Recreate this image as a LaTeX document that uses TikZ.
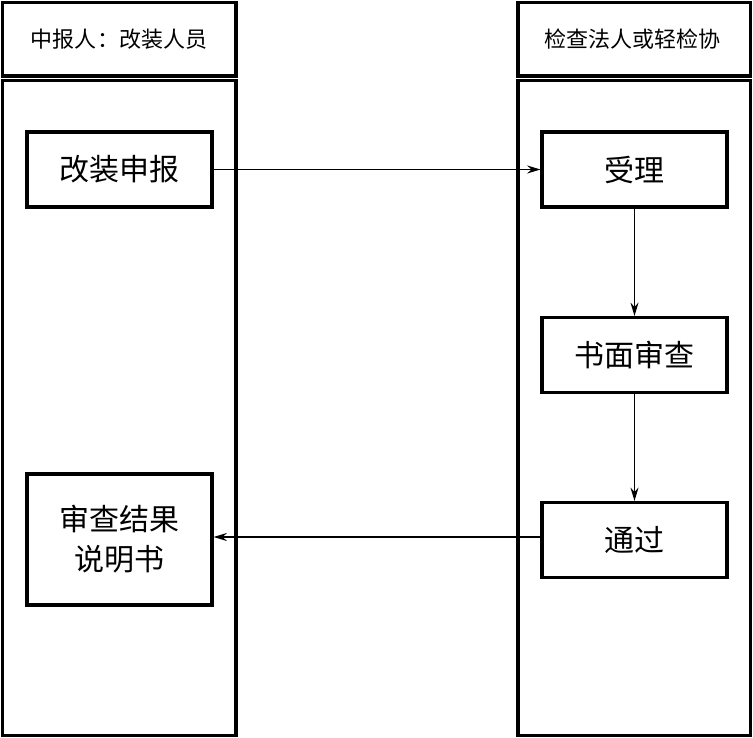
\documentclass[tikz,border=0pt]{standalone}
\usepackage{fontspec}
\newfontfamily\cjk{Noto Sans CJK SC}
\usetikzlibrary{arrows.meta}

\tikzset{
	lane/.style={draw=black, line width=2.3pt},
	stepbox/.style={draw=black, line width=2.3pt, minimum width=138.75pt, minimum height=56.25pt, inner sep=0pt, font=\cjk\fontsize{22.5pt}{30pt}\selectfont, align=center},
	lanetitle/.style={inner sep=0.75pt, font=\cjk\fontsize{16.5pt}{18pt}\selectfont},
	flow/.style={-{Stealth[length=10pt, width=6pt]}, line width=1.1pt, draw=black}
}

\begin{document}
\begin{tikzpicture}[x=0.75pt,y=0.75pt,yscale=-1,xscale=1]

	\useasboundingbox (0,0) rectangle (753,738);

	%%LANES---------------------------------------------
	%%left header
	\draw [lane] (2.5,2.5) rectangle (236,76);
	%%left body
	\draw [lane] (2.5,80.5) rectangle (236,735.5);
	%%right header
	\draw [lane] (518,2.5) rectangle (750.5,76);
	%%right body
	\draw [lane] (518,80.5) rectangle (750.5,735.5);

	% Lane titles
	\node [lanetitle] (leftTitle) at (119,39.5) {中报人：改装人员};
	\node [lanetitle] (rightTitle) at (632,39.5) {检查法人或轻检协};

	%%STEPS---------------------------------------------
	\node [stepbox] (shenbao) at (119.5,169.5) {改装申报};
	\node [stepbox] (shouli) at (634.5,169.5) {受理};
	\node [stepbox] (shumian) at (634.5,355) {书面审查};
	\node [stepbox] (tongguo) at (634.5,540) {通过};
	\node [stepbox, minimum height=98.25pt] (jieguo) at (119.5,539.5) {审查结果\\说明书};

	%%ARROWS---------------------------------------------
	\draw [flow] (shenbao.east) -- (shouli.west);
	\draw [flow] (shouli.south) -- (shumian.north);
	\draw [flow] (shumian.south) -- (tongguo.north);
	\draw [flow] ([yshift=-2.25pt]tongguo.west) -- ([yshift=-2.25pt]tongguo.west -| jieguo.east);

\end{tikzpicture}
\end{document}
